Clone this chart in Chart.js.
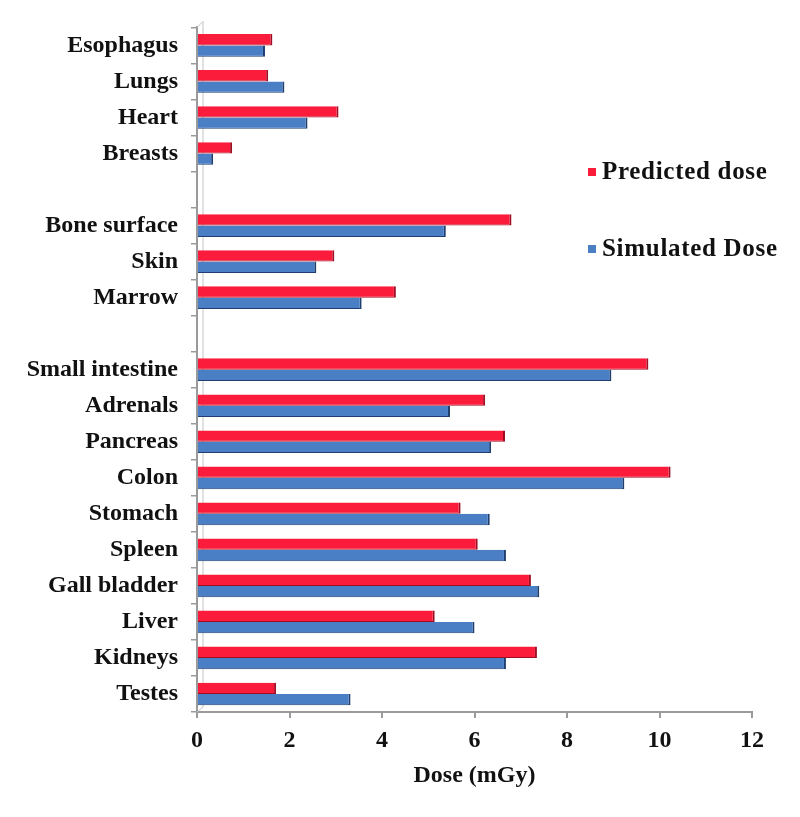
<!DOCTYPE html>
<html>
<head>
<meta charset="utf-8">
<script src="https://cdn.jsdelivr.net/npm/chart.js@4/dist/chart.umd.min.js"></script>
<style>
  html, body { margin: 0; padding: 0; background: #fff; }
  #wrap { width: 800px; height: 817px; }
</style>
</head>
<body>
<div id="wrap"><canvas id="c" width="800" height="817"></canvas></div>
<script>
// organs top to bottom; empty strings are the gaps between organ groups
const organs = ['Esophagus', 'Lungs', 'Heart', 'Breasts', '', 'Bone surface', 'Skin', 'Marrow', '',
  'Small intestine', 'Adrenals', 'Pancreas', 'Colon', 'Stomach', 'Spleen', 'Gall bladder', 'Liver', 'Kidneys', 'Testes'];
const predicted = [1.63, 1.54, 3.06, 0.76, null, 6.8, 2.97, 4.3, null,
  9.76, 6.23, 6.66, 10.24, 5.7, 6.07, 7.22, 5.14, 7.35, 1.71];
const simulated = [1.47, 1.89, 2.39, 0.35, null, 5.38, 2.58, 3.56, null,
  8.96, 5.47, 6.36, 9.24, 6.33, 6.68, 7.4, 6.0, 6.68, 3.32];
const xTicks = [0, 2, 4, 6, 8, 10, 12];

const FONT = "'Liberation Serif','Times New Roman',serif";
const AXIS = '#9a9a9a';

/* legend sits inside the plot on the right, two rows far apart */
const sideLegend = {
  id: 'sideLegend',
  afterDraw(chart) {
    const ctx = chart.ctx;
    const rows = [172, 249];
    ctx.save();
    ctx.font = 'bold 25px ' + FONT;
    ctx.letterSpacing = '0.7px';
    ctx.textBaseline = 'middle';
    chart.data.datasets.forEach((ds, i) => {
      ctx.fillStyle = ds.backgroundColor;
      ctx.fillRect(588, rows[i] - 4, 8, 8);
      ctx.fillStyle = '#111';
      ctx.fillText(ds.label, 602, rows[i] + 1);
    });
    ctx.restore();
  }
};

/* faint back wall line next to the y axis (the 3D look of the original) */
const wall = {
  id: 'wall',
  beforeDatasetsDraw(chart) {
    const { ctx, chartArea: a } = chart;
    ctx.save();
    ctx.strokeStyle = '#c4c4c4';
    ctx.lineWidth = 1;
    ctx.beginPath();
    ctx.moveTo(a.left + 6, a.top - 6);
    ctx.lineTo(a.left + 6, a.bottom - 5);
    ctx.lineTo(a.left, a.bottom);
    ctx.moveTo(a.left, a.top);
    ctx.lineTo(a.left + 6, a.top - 6);
    ctx.stroke();
    ctx.restore();
  }
};

new Chart(document.getElementById('c'), {
  type: 'bar',
  data: {
    labels: organs,
    datasets: [
      { label: 'Predicted dose', data: predicted, backgroundColor: '#fb1c3c', borderColor: '#9e0d22',
        borderWidth: { top: 0, right: 2, bottom: 1, left: 0 }, borderSkipped: 'start' },
      { label: 'Simulated Dose', data: simulated, backgroundColor: '#4a7fc6', borderColor: '#1f3f70',
        borderWidth: { top: 0, right: 2, bottom: 1, left: 0 }, borderSkipped: 'start' }
    ]
  },
  options: {
    indexAxis: 'y',
    responsive: false,
    animation: false,
    layout: { padding: { top: 27, right: 48, left: 0, bottom: 0 } },
    categoryPercentage: 0.63,
    barPercentage: 1,
    plugins: { legend: { display: false }, tooltip: { enabled: false } },
    scales: {
      x: {
        min: 0, max: 12,
        afterBuildTicks: (s) => { s.ticks = xTicks.map((v) => ({ value: v })); },
        afterFit: (s) => { s.height = 105; },
        grid: { drawOnChartArea: false, color: AXIS, tickLength: 6, lineWidth: 2 },
        border: { color: AXIS, width: 2 },
        ticks: { color: '#111', padding: 8, font: { family: FONT, size: 24, weight: 'bold' } },
        title: { display: true, text: 'Dose (mGy)', color: '#111', padding: { top: 0, bottom: 27 },
          font: { family: FONT, size: 24, weight: 'bold' } }
      },
      y: {
        afterFit: (s) => { s.width = 197; },
        grid: { drawOnChartArea: false, color: AXIS, tickLength: 6, lineWidth: 1.5, offset: true },
        border: { color: AXIS, width: 2 },
        ticks: { color: '#111', padding: 13, autoSkip: false, font: { family: FONT, size: 24, weight: 'bold' } }
      }
    }
  },
  plugins: [wall, sideLegend]
});
</script>
</body>
</html>
